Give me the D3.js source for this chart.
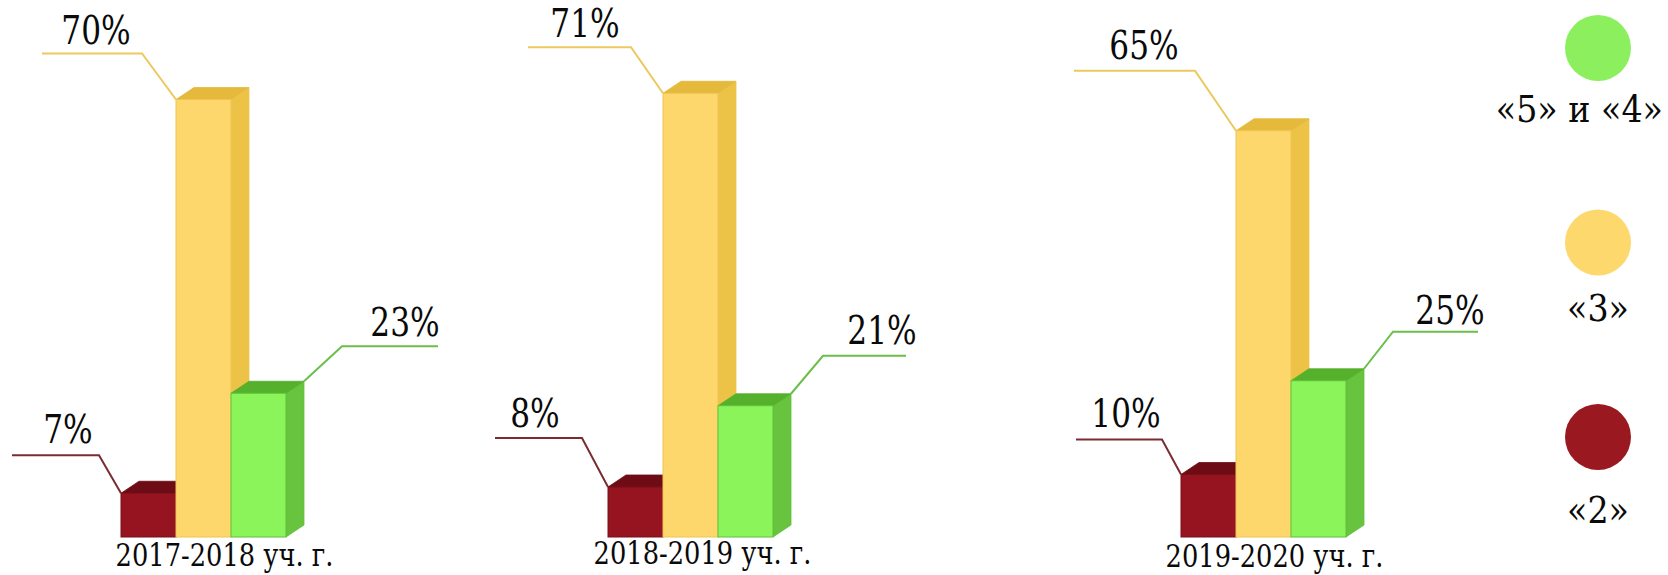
<!DOCTYPE html>
<html>
<head>
<meta charset="utf-8">
<script src="https://cdn.jsdelivr.net/npm/d3@7"></script>
<style>
  html, body { margin: 0; padding: 0; background: #ffffff; }
  svg { display: block; }
</style>
</head>
<body>
<svg id="chart" width="1668" height="575"></svg>
<script>
// ---- data ----
const years = ["2017-2018 уч. г.", "2018-2019 уч. г.", "2019-2020 уч. г."];
const grades = ["«2»", "«3»", "«5» и «4»"];
const grade2 = [7, 8, 10];
const grade3 = [70, 71, 65];
const grade45 = [23, 21, 25];
const legendOrder = ["«5» и «4»", "«3»", "«2»"];

const valuesByGrade = new Map([
  [grades[0], grade2],
  [grades[1], grade3],
  [grades[2], grade45]
]);

// ---- styles ----
const serif = "'DejaVu Serif', serif";
const ink = "#0a0a0a";
const palette = {
  "«2»":       { front: "#961320", top: "#6d0c14", side: "#7f0f19", stroke: "#7a0e18", leader: "#7b2c31", dot: "#9a1820" },
  "«3»":       { front: "#fdd76c", top: "#e5b93c", side: "#ecc346", stroke: "#efc454", leader: "#ebc95f", dot: "#fdd86d" },
  "«5» и «4»": { front: "#8bf45b", top: "#55b02b", side: "#68c33e", stroke: "#5ec238", leader: "#6bbf49", dot: "#8cef5d" }
};

// ---- layout ----
const W = 1668, H = 575;
const svg = d3.select("#chart");

const panelX = d3.scaleOrdinal(years, [121, 608, 1181]);
const x = d3.scaleBand(grades, [0, 165]).padding(0);
const y = d3.scaleLinear([0, 100], [537, -88]);
const DX = 18, DY = -12;   // depth of the 3D faces

// leader lines per grade, per panel: [dx, dy, length, text shift from line end, text gap]
const leaderLayout = {
  "«2»":       [[-22, -38, 87, 56, 12], [-26, -49, 87, 40, 11], [-19, -35, 86, 50, 13]],
  "«3»":       [[-34, -46, 100, 54, 10], [-32, -46, 103, 57, 10], [-41, -60, 121, 70, 12]],
  "«5» и «4»": [[38, -35, 96, -33, 10], [32, -38, 83, -24, 12], [29, -37, 85, -28, 8]]
};
const yearLabelShift = [21, 12, 11];
const yearLabelBase = [566, 564, 567];

// DejaVu Serif is wide, so it is compressed horizontally
const pctFont = 39, pctScale = 0.80;
const yearFont = 31, yearScale = 0.83;
const legendFont = 37, legendScale = 0.9;

function inkText(sel) {
  return sel.attr("font-family", serif).attr("fill", ink);
}

// ---- bars ----
years.forEach((yr, i) => {
  const g = svg.append("g").attr("class", "panel");

  grades.forEach(gr => {
    const v = valuesByGrade.get(gr)[i];
    const c = palette[gr];
    const x0 = panelX(yr) + x(gr);
    const x1 = x0 + x.bandwidth();
    const yt = y(v), yb = y(0);

    g.append("polygon")
      .attr("points", [[x1, yt], [x1 + DX, yt + DY], [x1 + DX, yb + DY], [x1, yb]].join(" "))
      .attr("fill", c.side).attr("stroke", c.stroke).attr("stroke-width", 0.8);
    g.append("polygon")
      .attr("points", [[x0, yt], [x1, yt], [x1 + DX, yt + DY], [x0 + DX, yt + DY]].join(" "))
      .attr("fill", c.top).attr("stroke", c.top).attr("stroke-width", 0.8);
    g.append("rect")
      .attr("x", x0).attr("y", yt)
      .attr("width", x.bandwidth()).attr("height", yb - yt)
      .attr("fill", c.front).attr("stroke", c.stroke).attr("stroke-width", 1);
  });

  // value leaders and labels
  grades.forEach(gr => {
    const v = valuesByGrade.get(gr)[i];
    const c = palette[gr];
    const [ldx, ldy, len, shift, gap] = leaderLayout[gr][i];
    const x0 = panelX(yr) + x(gr);
    const x1 = x0 + x.bandwidth();
    const toRight = ldx > 0;
    const ax = toRight ? x1 + DX : x0;
    const ay = toRight ? y(v) + DY : y(v);
    const ex = ax + ldx, ey = ay + ldy;
    const endX = ex + (toRight ? len : -len);

    g.append("path")
      .attr("d", d3.line()([[ax, ay], [ex, ey], [endX, ey]]))
      .attr("fill", "none").attr("stroke", c.leader).attr("stroke-width", 2);

    g.append("text")
      .attr("transform", `translate(${endX + shift},${ey - gap}) scale(${pctScale},1)`)
      .attr("text-anchor", "middle")
      .attr("font-size", pctFont)
      .call(inkText)
      .text(v + "%");
  });

  // school year caption
  g.append("text")
    .attr("transform", `translate(${panelX(yr) + x.range()[1] / 2 + yearLabelShift[i]},${yearLabelBase[i]}) scale(${yearScale},1)`)
    .attr("text-anchor", "middle")
    .attr("font-size", yearFont)
    .call(inkText)
    .text(yr);
});

// ---- legend ----
const legendY = d3.scalePoint(legendOrder, [48, 437]);
const legendCx = 1598, legendR = 33;
const legendLabelDy = [74, 78, 86];

const legend = svg.append("g").attr("class", "legend");
legendOrder.forEach((gr, k) => {
  legend.append("circle")
    .attr("cx", legendCx).attr("cy", legendY(gr)).attr("r", legendR)
    .attr("fill", palette[gr].dot);
  const t = legend.append("text")
    .attr("text-anchor", "middle")
    .attr("font-size", legendFont)
    .call(inkText)
    .text(gr);
  // keep the caption inside the drawing
  const w = t.node().getComputedTextLength() * legendScale;
  let cx = legendCx;
  if (cx + w / 2 > W - 5) cx = W - 5 - w / 2;
  t.attr("transform", `translate(${cx},${legendY(gr) + legendLabelDy[k]}) scale(${legendScale},1)`);
});
</script>
</body>
</html>
